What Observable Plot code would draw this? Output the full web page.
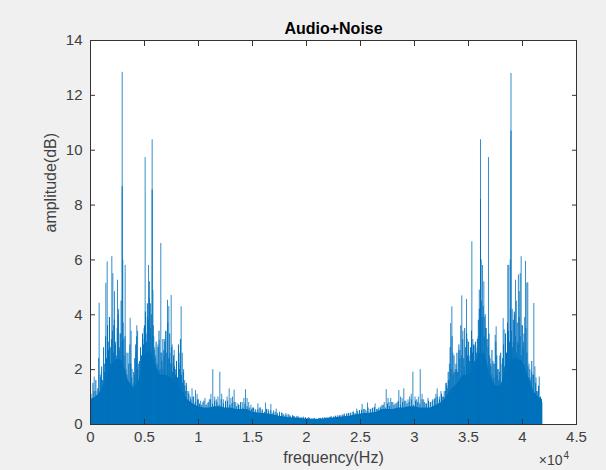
<!DOCTYPE html>
<html><head><meta charset="utf-8">
<script src="https://cdn.jsdelivr.net/npm/d3@7"></script>
<script src="https://cdn.jsdelivr.net/npm/@observablehq/plot@0.6"></script>
<style>html,body{margin:0;padding:0;background:#f0f0f0;}</style>
</head><body><div id="chart"></div>
<script>
// x ticks (Hz) and y ticks (dB)
const xTicks = [0, 5000, 10000, 15000, 20000, 25000, 30000, 35000, 40000, 45000];
const yTicks = [0, 2, 4, 6, 8, 10, 12, 14];

const bodyStep = 500;
const bodyLevels = [0.9,1.0,1.2,1.8,2.2,2.4,2.3,1.6,1.3,1.6,2.4,2.8,2.2,1.8,1.8,1.7,1.4,1.2,0.9,0.75,
  0.65,0.6,0.6,0.65,0.65,0.6,0.6,0.55,0.55,0.55,0.45,0.42,0.4,0.38,0.35,0.3,0.27,0.25,0.24,0.22,
  0.2,0.18,0.18,0.2,0.22,0.24,0.26,0.28,0.3,0.35,0.38,0.4,0.42,0.45,0.55,0.55,0.55,0.6,0.6,0.65,
  0.65,0.6,0.6,0.6,0.7,0.8,1.0,1.3,1.5,1.8,1.8,2.0,2.6,2.6,1.8,1.4,1.4,2.0,2.4,2.4,
  2.3,1.8,1.2,1.0];
const bodyEnd = [41850, 0.9];

// fine texture (column maxima) in the busy low band: start 45 Hz, every 90 Hz
const fineLowStart = 45, fineStep = 90;
const fineLow = [1.1,0.7,1.5,1.2,0.8,1.6,1.0,1.3,2.4,1.2,1.7,
  2.1,1.6,2.8,1.9,3.2,2.4,3.6,2.7,3.9,2.2,3.1,
  3.4,2.6,3.8,2.9,2.2,3.5,4.0,2.8,3.3,4.5,3.0,
  3.7,2.5,3.2,2.0,1.8,2.6,1.5,2.9,2.2,1.7,1.4,
  1.9,2.4,2.9,3.2,2.0,1.6,2.3,2.8,2.5,3.3,2.9,
  3.6,4.1,3.0,4.4,3.8,4.6,3.5,4.0,3.2,3.6,2.7,
  2.5,3.0,2.2,2.8,3.4,2.0,2.6,2.3,3.1,2.7,3.0,
  3.4,2.6,3.7,2.4,3.3,2.2,2.8,1.9,2.5,2.1,1.8,
  2.3,1.7,2.9,2.0,3.1,1.8,1.5,1.9,1.4,1.2,1.5];
// fine texture in the busy high band: start 32850 Hz, every 90 Hz
const fineHighStart = 32850;
const fineHigh = [1.2,1.5,1.3,1.9,1.6,2.8,2.0,3.2,1.8,2.5,1.9,
  2.2,2.6,1.9,2.9,2.4,3.6,2.5,3.1,2.4,3.5,2.8,
  3.3,2.5,3.0,2.3,2.8,3.4,2.6,2.9,2.3,3.0,2.6,
  3.1,3.8,4.2,3.6,4.5,3.9,4.3,3.2,4.0,3.5,3.1,
  2.8,3.3,2.4,2.1,2.7,2.3,1.7,2.2,3.0,2.5,2.0,
  1.6,1.9,2.6,1.5,2.4,2.9,2.1,3.3,2.6,3.7,3.4,
  3.0,4.2,3.4,2.8,3.8,4.1,3.2,2.6,3.7,2.9,3.9,
  3.2,2.5,3.6,2.8,3.3,2.2,3.5,2.6,2.1,1.7,2.0,
  1.6,2.3,1.3,1.8,1.1,1.5,1.2,0.9,1.4,0.8,1.0];
// fine texture in the quiet middle band: start 9100 Hz, every 200 Hz
const fineMidStart = 9100, fineMidStep = 200;
const fineMid = [1.1,0.9,1.0,0.8,0.9,0.75,0.7,0.85,0.7,0.8,
  0.9,0.75,0.85,0.8,0.7,0.9,0.75,0.8,0.85,0.7,
  0.75,0.8,0.65,0.7,0.8,0.6,0.75,0.65,0.6,0.55,
  0.6,0.5,0.55,0.6,0.5,0.45,0.55,0.48,0.5,0.42,
  0.45,0.4,0.38,0.42,0.35,0.33,0.36,0.3,0.32,0.28,
  0.28,0.26,0.25,0.24,0.25,0.22,0.23,0.21,0.22,0.2,
  0.21,0.22,0.24,0.23,0.25,0.26,0.28,0.27,0.3,0.32,
  0.33,0.35,0.38,0.36,0.4,0.42,0.45,0.4,0.48,0.5,
  0.52,0.55,0.5,0.6,0.55,0.58,0.62,0.55,0.6,0.65,
  0.7,0.6,0.75,0.65,0.8,0.7,0.75,0.85,0.7,0.8,
  0.85,0.75,0.8,0.9,0.7,0.85,0.8,0.75,0.9,0.8,
  0.75,0.85,0.8,0.9,0.95,1.0,0.9,1.1,1.0];

// spikes [frequency Hz, amplitude] – lower half of the spectrum
const leftSpikes = [[150,0.9],[340,1.73],[500,1.2],[620,0.9],[800,4.42],[900,1.8],[1000,1.9],[1150,1.3],[1300,2.2],[1420,5.15],
  [1545,5.93],[1650,3.0],[1750,3.9],[1850,2.8],[1975,6.12],[2070,5.5],[2150,3.6],[2220,4.84],[2320,3.0],[2420,2.5],
  [2500,5.26],[2600,4.2],[2700,2.7],[2800,3.3],[2935,12.84],[2990,6.0],[3080,3.1],[3210,5.8],[3300,2.6],[3420,1.6],
  [3530,2.2],[3670,3.87],[3760,3.4],[3850,2.0],[3950,1.5],[4080,1.8],[4200,2.6],[4290,3.6],[4360,3.4],[4450,2.2],
  [4550,1.5],[4650,1.9],[4750,2.2],[4850,3.1],[4960,3.5],[5060,9.73],[5150,3.3],[5260,3.9],[5370,5.8],[5460,5.2],
  [5560,4.4],[5710,10.38],[5780,4.9],[5860,3.2],[5950,2.8],[6050,2.4],[6150,2.0],[6250,2.9],[6360,3.07],[6510,6.6],
  [6600,2.6],[6700,2.0],[6800,2.5],[6880,3.1],[6975,3.37],[7130,4.53],[7250,4.3],[7350,2.6],[7470,4.7],[7560,2.9],
  [7650,2.2],[7750,2.7],[7860,2.0],[7960,1.9],[8080,1.6],[8200,2.6],[8300,2.2],[8395,4.29],[8500,2.6],[8620,2.0],
  [8720,1.6],[8850,1.4],[8960,1.2],[9100,1.2],[9250,1.0],[9400,1.3],[9550,1.0],[9720,1.24],[9870,1.1],[10000,0.9],
  [10200,0.85],[10400,0.8],[10600,0.95],[10800,0.75],[11000,0.9],[11150,1.1],[11325,2.0],[11500,1.0],[11650,0.9],[11800,1.0],
  [11975,1.91],[12150,1.1],[12300,0.9],[12500,0.85],[12650,1.0],[12840,1.3],[13000,0.95],[13150,1.0],[13300,1.25],[13450,0.8],
  [13650,0.75],[13850,0.7],[14050,0.8],[14200,0.95],[14350,1.27],[14500,0.95],[14650,0.8],[14850,0.7],[15000,0.6],[15250,0.55],
  [15500,0.75],[15700,0.6],[15900,0.55],[16200,0.78],[16450,0.55],[16700,0.73],[16950,0.5],[17200,0.56],[17500,0.45],[17800,0.39],
  [18100,0.4],[18400,0.34],[18800,0.3],[19200,0.3],[19700,0.27],[20200,0.25],[20700,0.22]];

// spikes – upper (mirrored) half of the spectrum
const rightSpikes = [[21200,0.22],[21700,0.25],[22200,0.27],[22650,0.3],[23050,0.3],[23450,0.34],[23750,0.4],[24050,0.39],[24350,0.45],[24650,0.56],
  [24900,0.5],[25150,0.73],[25400,0.55],[25650,0.78],[25950,0.55],[26150,0.6],[26350,0.75],[26600,0.55],[26850,0.6],[27000,0.7],
  [27200,0.8],[27380,1.27],[27550,0.95],[27650,0.8],[27800,0.95],[28000,0.8],[28200,0.75],[28400,0.8],[28550,1.24],[28700,1.0],
  [28850,0.95],[29010,1.3],[29200,0.85],[29400,0.9],[29550,1.0],[29700,1.1],[29850,1.91],[30050,1.0],[30200,0.9],[30350,1.0],
  [30530,2.0],[30700,1.1],[30850,0.9],[31050,0.75],[31250,0.95],[31450,0.8],[31650,0.85],[31850,0.9],[31980,1.1],[32100,1.3],
  [32300,1.0],[32450,1.2],[32600,1.0],[32750,1.2],[32900,1.49],[33000,1.4],[33130,1.6],[33230,2.2],[33350,3.68],[33460,4.29],
  [33560,2.6],[33650,1.9],[33780,2.0],[33900,2.0],[34000,1.9],[34100,2.7],[34200,2.7],[34380,4.69],[34480,3.4],[34600,2.1],
  [34815,4.56],[34880,3.1],[34980,2.4],[35050,2.5],[35150,2.0],[35310,6.66],[35400,3.1],[35500,2.85],[35600,2.9],[35700,2.4],
  [35800,2.8],[35900,3.2],[36000,4.9],[36110,10.38],[36180,6.0],[36300,5.8],[36420,5.2],[36500,3.9],[36600,3.5],[36700,3.1],
  [36850,9.73],[36950,2.5],[37050,2.2],[37150,1.8],[37300,2.2],[37470,3.25],[37560,3.56],[37650,1.8],[37750,2.0],[37900,2.5],
  [38000,1.5],[38100,2.2],[38210,3.86],[38300,3.45],[38420,1.6],[38550,2.6],[38640,5.8],[38730,5.8],[38860,6.0],[38935,12.8],
  [39050,4.2],[39150,3.0],[39250,4.0],[39350,5.26],[39430,4.5],[39520,3.0],[39620,5.45],[39700,4.84],[39790,5.5],[39875,6.12],
  [39980,3.6],[40100,3.0],[40200,3.9],[40280,5.95],[40400,5.15],[40490,5.17],[40600,2.2],[40700,1.7],[40850,1.9],[40950,1.8],
  [41050,4.41],[41150,2.1],[41250,1.7],[41400,1.2],[41550,1.73],[41700,0.9],[41800,0.8]];

// darker (denser) lower parts of the tallest spikes
const coreSpikes = [[2935,8.67],[5710,8.55],[38935,10.7],[36110,8.2]];

const body = bodyLevels.map((v, i) => ({f: i * bodyStep, v})).concat([{f: bodyEnd[0], v: bodyEnd[1]}]);
const fine = fineLow.map((v, i) => ({f: fineLowStart + i * fineStep, v}))
  .concat(fineHigh.map((v, i) => ({f: fineHighStart + i * fineStep, v})))
  .concat(fineMid.map((v, i) => ({f: fineMidStart + i * fineMidStep, v})));
const spikes = leftSpikes.concat(rightSpikes).map(([f, v]) => ({f, v}));
const cores = coreSpikes.map(([f, v]) => ({f, v}));

const blue = "#0072BD";
const axisColor = "#404040";
const font = "'Liberation Sans', Arial, Helvetica, sans-serif";

const chart = Plot.plot({
  width: 606, height: 470,
  marginLeft: 90, marginRight: 30, marginTop: 40, marginBottom: 46,
  style: {background: "#f0f0f0", fontFamily: font, fontSize: "15px", color: axisColor},
  x: {domain: [0, 45000]},
  y: {domain: [0, 14]},
  marks: [
    Plot.frame({fill: "white", stroke: null}),
    Plot.areaY(body, {x: "f", y: "v", fill: blue, curve: "linear"}),
    Plot.ruleX(fine, {x: "f", y1: 0, y2: "v", stroke: blue, strokeWidth: 1}),
    Plot.ruleX(spikes, {x: "f", y1: 0, y2: "v", stroke: blue, strokeWidth: 1, strokeOpacity: 0.8}),
    Plot.ruleX(cores, {x: "f", y1: 0, y2: "v", stroke: blue, strokeWidth: 1}),
    Plot.frame({stroke: "#333", strokeWidth: 1}),
    Plot.axisX({anchor: "bottom", ticks: xTicks, tickSize: -5, fill: "none", label: null, stroke: "#333"}),
    Plot.axisX({anchor: "top", ticks: xTicks, tickSize: -5, fill: "none", label: null, stroke: "#333"}),
    Plot.axisY({anchor: "left", ticks: yTicks, tickSize: -5, fill: "none", label: null, stroke: "#333"}),
    Plot.axisY({anchor: "right", ticks: yTicks, tickSize: -5, fill: "none", label: null, stroke: "#333"}),
    Plot.axisX({anchor: "bottom", ticks: xTicks, tickSize: 0, tickPadding: 7, label: null, fill: axisColor, fontSize: 15,
      tickFormat: d => String(d / 1e4)}),
    Plot.axisY({anchor: "left", ticks: yTicks, tickSize: 0, tickPadding: 8, label: null, fill: axisColor, fontSize: 15}),
    Plot.text(["Audio+Noise"], {frameAnchor: "top", dy: -18, fontWeight: "bold", fontSize: 16, fill: "black"}),
    Plot.text(["frequency(Hz)"], {frameAnchor: "bottom", dy: 38, fontSize: 16, fill: axisColor}),
    Plot.text(["amplitude(dB)"], {frameAnchor: "left", dx: -40, rotate: -90, fontSize: 16, fill: axisColor}),
    Plot.text(["×10"], {frameAnchor: "bottom-right", dx: -14, dy: 40, textAnchor: "end", fontSize: 14, fill: axisColor}),
    Plot.text(["4"], {frameAnchor: "bottom-right", dx: -13, dy: 34, textAnchor: "start", fontSize: 10, fill: axisColor})
  ]
});
document.getElementById("chart").appendChild(chart);
</script>
</body></html>
